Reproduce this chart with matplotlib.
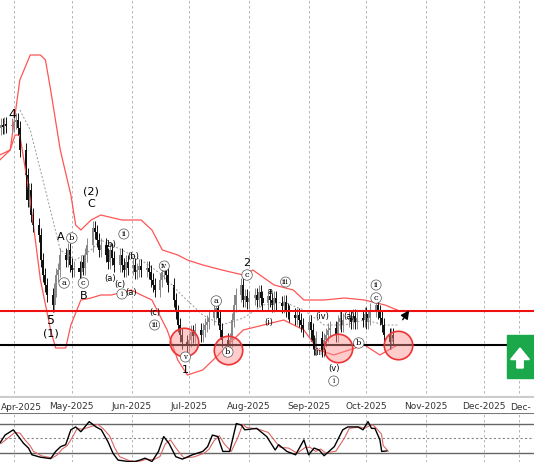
import numpy as np
import pandas as pd
import matplotlib
matplotlib.use("Agg")
import matplotlib.pyplot as plt
from matplotlib.patches import Rectangle, FancyArrow

# closes in chart units (weekly rows, Mon..Fri), starting 2025-03-24
closes = [
    272, 275, 273, 276, 274,
    275, 278, 280, 272, 250,
    225, 200, 210, 185, 175,
    165, 140, 125, 115, 105,
    95, 110, 125, 130, 145,
    140, 150, 135, 130, 132,
    128, 138, 132, 145, 155,
    172, 168, 160, 150, 155,
    145, 138, 150, 142, 135,
    145, 135, 130, 138, 132,
    135, 128, 130, 134, 130,
    132, 128, 120, 115, 110,
    120, 128, 132, 125, 115,
    100, 88, 75, 65, 58,
    55, 60, 68, 64, 70,
    65, 70, 75, 78, 82,
    88, 92, 82, 70, 60,
    55, 60, 80, 95, 105,
    115, 100, 104, 98, 102,
    105, 100, 108, 102, 97,
    104, 100, 95, 102, 97,
    94, 98, 90, 88, 85,
    82, 85, 80, 75, 70,
    78, 70, 58, 52, 62,
    50, 60, 65, 70, 72,
    65, 78, 82, 75, 80,
    82, 78, 84, 78, 82,
    80, 86, 78, 82, 90,
    95, 88, 82, 75, 65,
    58, 65, 62,
]

# bands: day offsets from 2025-04-01 and chart-unit values
up_d = [-7.4, -2, 3, 8.4, 13.7, 16.3, 19, 24, 29.5, 32, 34.7, 40, 45, 56, 66, 71.6, 77, 85, 90, 98, 108, 119, 124, 135, 145, 150.5, 161, 171.6, 182, 192.6, 199]
up_v = [240, 250, 320, 345, 345, 340, 310, 250, 205, 175, 170, 180, 185, 180, 180, 170, 150, 145, 140, 135, 130, 125, 130, 115, 110, 100, 100, 102, 100, 95, 90]
lo_d = [-7.4, -2, 0.5, 3, 8.4, 13.7, 19, 21.6, 26.8, 29.5, 34.7, 40, 45, 50.5, 61, 66, 71.6, 79.5, 85, 90, 98, 106, 111, 119, 129.5, 140, 150.5, 158, 166, 174, 182, 190, 199]
lo_v = [245, 250, 265, 265, 200, 120, 70, 52, 52, 75, 100, 102, 105, 105, 110, 105, 100, 70, 40, 25, 30, 45, 55, 70, 75, 80, 70, 50, 45, 50, 55, 45, 55]
mid_d = [3, 8.4, 16.3, 24, 32, 40, 45, 56, 66, 77, 87, 98, 108, 119, 129.5, 140, 150.5, 161, 171.6, 182, 192.6, 199]
mid_v = [290, 270, 210, 150, 140, 150, 160, 150, 140, 125, 105, 85, 75, 82, 95, 98, 90, 75, 75, 80, 75, 75]

# stochastic oscillator
osc_d = [-7.4, -4.7, -0.4, 2.3, 4.9, 7.5, 9.3, 13.7, 19, 21.6, 24.2, 26.8, 29.5, 32, 34.7, 39, 42.6, 45.3, 48.8, 51.4, 54, 59.3, 62.8, 65.4, 68, 71.6, 75, 77.7, 80.4, 84, 87.4, 92.6, 98, 100.5, 103, 105.8, 108.4, 112, 115.4, 118, 119.8, 126, 131.2, 135.6, 137.4, 141.7, 146.2, 150.5, 153, 155.8, 158.4, 161, 166.3, 170.7, 173.3, 178.6, 181.2, 183.8, 185.6, 187.4, 190, 190.9, 193.5]
osc_v = [40, 57, 68, 54, 40, 30, 16, 11, 8, 23, 33, 37, 68, 74, 64, 85, 74, 68, 43, 19, 5, 2, 2, 5, 9, 2, 23, 54, 40, 12, 7, 16, 23, 33, 57, 54, 23, 23, 81, 78, 68, 71, 54, 26, 37, 23, 16, 47, 16, 30, 26, 14, 33, 68, 74, 74, 68, 85, 71, 71, 47, 23, 24]

month_days = [0, 30, 61, 91, 122, 153, 183, 214, 244]
month_labels = ["Apr-2025", "May-2025", "Jun-2025", "Jul-2025", "Aug-2025", "Sep-2025", "Oct-2025", "Nov-2025", "Dec-2025"]

# wave labels: text, day, value, circled
waves = [
    ("4", -1, 285, False, 9), ("5", 19, 80, False, 9), ("(1)", 19, 67, False, 8),
    ("A", 24, 163, False, 8), ("b", 30, 162, True, 6), ("a", 26, 117, True, 6),
    ("c", 36, 117, True, 6), ("B", 36, 104, False, 8), ("(2)", 40, 209, False, 8),
    ("C", 40, 196, False, 8), ("(b)", 50, 155, False, 6), ("ii", 57, 166, True, 5),
    ("(a)", 50, 122, False, 6), ("(c)", 55, 116, False, 6), ("i", 56, 106, True, 5),
    ("(b)", 62, 143, False, 6), ("(a)", 61, 108, False, 6), ("iv", 78, 134, True, 5),
    ("(c)", 73, 88, False, 6), ("iii", 73, 75, True, 5), ("v", 89, 43, True, 5),
    ("1", 89, 30, False, 8), ("a", 105, 99, True, 6), ("b", 111, 48, True, 6),
    ("c", 121, 125, True, 6), ("2", 121, 137, False, 8), ("a", 133, 109, False, 6),
    ("iii", 141, 118, True, 5), ("(i)", 132, 78, False, 6), ("(iv)", 160, 84, False, 6),
    ("(iii)", 159, 48, False, 6), ("(v)", 166, 32, False, 6), ("i", 166, 19, True, 5),
    ("(a)", 174, 83, False, 6), ("b", 179, 57, True, 6), ("c", 188, 102, True, 6),
    ("ii", 188, 115, True, 5),
]
circles_d = [88.5, 111, 168, 199.5]
circles_v = [58, 50, 52, 55]

red_level = 89
black_level = 55

start = pd.Timestamp("2025-04-01")
dates = pd.bdate_range("2025-03-24", periods=len(closes))
xd = np.array([(d - start).days for d in dates], dtype=float)
c = np.array(closes, dtype=float)
o = np.r_[c[0], c[:-1]]

fig = plt.figure(figsize=(5.34, 4.62), dpi=100)
ax = fig.add_axes([0, 64 / 462, 1, 398 / 462])
osc = fig.add_axes([0, 0, 1, 49 / 462])
XL = (-7.3, 270)

ax.set_xlim(*XL)
ax.set_ylim(2, 400)
for d in month_days + [262]:
    ax.axvline(d, color="#aaaaaa", lw=0.6, ls=(0, (3, 3)), zorder=0)
    osc.axvline(d, color="#aaaaaa", lw=0.6, ls=(0, (3, 3)), zorder=0)

ax.plot(up_d, up_v, color="#ff5555", lw=0.9)
ax.plot(lo_d, lo_v, color="#ff5555", lw=0.9)
ax.plot(mid_d, mid_v, color="#999999", lw=0.7, ls=(0, (2, 2)))

for xi, oi, ci in zip(xd, o, c):
    col = "#888888" if ci >= oi else "#111111"
    ax.vlines(xi, min(oi, ci) - 7, max(oi, ci) + 7, color=col, lw=0.7)
    ax.add_patch(Rectangle((xi - 0.55, min(oi, ci)), 1.1, max(abs(ci - oi), 1.5), color=col, lw=0))

ax.axhline(red_level, color="#ee1111", lw=1.5)
ax.axhline(black_level, color="black", lw=1.5)
ax.scatter(circles_d, circles_v, s=420, facecolor=(1, 0.55, 0.55, 0.45), edgecolor="#ee3333", lw=1.2, zorder=5)

for txt, d, v, circ, fs in waves:
    if circ:
        ax.text(d, v, txt, ha="center", va="center", fontsize=fs, family="DejaVu Serif",
                bbox=dict(boxstyle="circle,pad=0.15", fc="white", ec="#555555", lw=0.5), zorder=6)
    else:
        ax.text(d, v, txt, ha="center", va="center", fontsize=fs, zorder=6)

ax.annotate("", xy=(206, 92), xytext=(201, 78),
            arrowprops=dict(arrowstyle="-|>,head_length=0.5,head_width=0.25", color="black", lw=1))

ax.set_xticks(month_days)
ax.set_xticklabels([""] + month_labels[1:], fontsize=6.5, color="#333333")
ax.tick_params(axis="x", length=0, pad=3)
ax.set_yticks([])
for s in ax.spines.values():
    s.set_visible(False)
ax.axhline(2.5, color="#cccccc", lw=3)
fig.text(1 / 534, 54 / 462, month_labels[0], fontsize=6.5, color="#333333", va="center", ha="left")

# green buy box
fig.patches.append(Rectangle((507 / 534, 1 - 378 / 462), 27 / 534, 43 / 462, transform=fig.transFigure, color="#1aa84a"))
fig.patches.append(FancyArrow(520 / 534, 1 - 368 / 462, 0, 20 / 462, width=0.012, head_width=0.035, head_length=0.025,
                              transform=fig.transFigure, color="white", length_includes_head=True))
fig.text(510 / 534, 54 / 462, "Dec-", fontsize=6.5, color="#333333", va="center")

osc.set_xlim(*XL)
osc.set_ylim(1, 103)
for lv in (80, 20):
    osc.axhline(lv, color="#666666", lw=1)
osc.axhline(50, color="#888888", lw=0.8, ls=(0, (2, 2)))
sig = pd.Series(osc_v).rolling(2, min_periods=1).mean()
osc.plot(np.array(osc_d) + 0.8, sig, color="#dd6666", lw=0.8)
osc.plot(osc_d, osc_v, color="black", lw=1)
osc.set_xticks([]); osc.set_yticks([])
for s in osc.spines.values():
    s.set_visible(False)
osc.axhline(103, color="#777777", lw=1.5)

fig.savefig("out.png", dpi=100)
